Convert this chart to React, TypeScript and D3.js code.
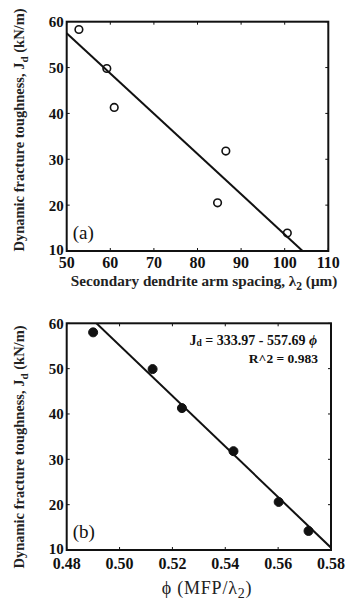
import React from "react";
import * as d3 from "d3";

// ---- Data ----
const lambda2 = [52.8, 59.2, 60.9, 84.6, 86.5, 100.6];
const jdA = [58.3, 49.8, 41.3, 20.5, 31.8, 13.9];
const phi = [0.49, 0.5125, 0.5236, 0.5431, 0.5602, 0.5715];
const jdB = [58.0, 49.9, 41.3, 31.8, 20.6, 14.2];
const fitA = [101.4, -0.878]; // intercept, slope
const fitB = [333.97, -557.69];
const xTicksA = [50, 60, 70, 80, 90, 100, 110];
const xTicksB = [0.48, 0.5, 0.52, 0.54, 0.56, 0.58];
const yTicks = [10, 20, 30, 40, 50, 60];

const FONT = "'Liberation Serif', 'DejaVu Serif', serif";

type PanelProps = {
  x0: number; x1: number; y0: number; y1: number;
  xDomain: [number, number]; xTicks: number[]; xFmt: (v: number) => string;
  xs: number[]; ys: number[]; filled: boolean; fit: number[];
  label: string; id: string; xLabOff: number;
};

function Panel(p: PanelProps) {
  const x = d3.scaleLinear().domain(p.xDomain).range([p.x0, p.x1]);
  const y = d3.scaleLinear().domain([10, 60]).range([p.y1, p.y0]);
  const [a, b] = p.fit;
  const xStart = Math.max(p.xDomain[0], (60 - a) / b);
  const xEnd = Math.min(p.xDomain[1], (10 - a) / b);
  const line = d3.line<number>().x((v) => x(v)).y((v) => y(a + b * v));
  const tl = 3;
  return (
    <g>
      <defs>
        <clipPath id={p.id}>
          <rect x={p.x0} y={p.y0} width={p.x1 - p.x0} height={p.y1 - p.y0} />
        </clipPath>
      </defs>
      {p.xTicks.map((t, i) => (
        <g key={"xt" + i}>
          <line x1={x(t)} x2={x(t)} y1={p.y1} y2={p.y1 - tl} stroke="#111" strokeWidth={1} />
          <line x1={x(t)} x2={x(t)} y1={p.y0} y2={p.y0 + tl} stroke="#111" strokeWidth={1} />
          <text x={x(t)} y={p.y1 + p.xLabOff} textAnchor="middle" fontSize={16} fontWeight="bold" fontFamily={FONT} fill="#111">
            {p.xFmt(t)}
          </text>
        </g>
      ))}
      {yTicks.map((t, i) => (
        <g key={"yt" + i}>
          <line x1={p.x0} x2={p.x0 + tl} y1={y(t)} y2={y(t)} stroke="#111" strokeWidth={1} />
          <line x1={p.x1} x2={p.x1 - tl} y1={y(t)} y2={y(t)} stroke="#111" strokeWidth={1} />
          <text x={p.x0 - 3} y={y(t) + (t === 10 ? 3.5 : 5.5)} textAnchor="end" fontSize={15} fontWeight="bold" fontFamily={FONT} fill="#111">
            {t}
          </text>
        </g>
      ))}
      <rect x={p.x0} y={p.y0} width={p.x1 - p.x0} height={p.y1 - p.y0} fill="none" stroke="#111" strokeWidth={2} />
      <path d={line([xStart, xEnd]) || ""} stroke="#111" strokeWidth={2} fill="none" clipPath={`url(#${p.id})`} />
      {p.xs.map((v, i) => (
        <circle key={"c" + i} cx={x(v)} cy={y(p.ys[i])} r={p.filled ? 4.5 : 3.8}
          fill={p.filled ? "#111" : "none"} stroke="#111" strokeWidth={p.filled ? 1 : 1.6} />
      ))}
      <text x={p.x0 + 6} y={y(10) - 12} fontSize={19} fontFamily={FONT} fill="#111">{p.label}</text>
    </g>
  );
}

export default function App() {
  return (
    <svg width={353} height={610} style={{ position: "absolute", left: 0, top: 0, background: "#fff" }}>
      <rect width={353} height={610} fill="#fff" />
      <Panel id="ca" x0={66.7} x1={328.3} y0={21.7} y1={251} xDomain={[50, 110]} xTicks={xTicksA}
        xFmt={(v) => String(v)} xs={lambda2} ys={jdA} filled={false} fit={fitA} label="(a)" xLabOff={17} />
      <Panel id="cb" x0={66.7} x1={331} y0={323.3} y1={550} xDomain={[0.48, 0.58]} xTicks={xTicksB}
        xFmt={(v) => v.toFixed(2)} xs={phi} ys={jdB} filled={true} fit={fitB} label="(b)" xLabOff={19} />

      <text transform="translate(24,130) rotate(-90)" textAnchor="middle" fontSize={14.5} fontWeight="bold" fontFamily={FONT} fill="#222">
        Dynamic fracture toughness, J<tspan fontSize={11} dy={4}>d</tspan><tspan dy={-4}> (kN/m)</tspan>
      </text>
      <text transform="translate(24,447) rotate(-90)" textAnchor="middle" fontSize={14.5} fontWeight="bold" fontFamily={FONT} fill="#222">
        Dynamic fracture toughness, J<tspan fontSize={11} dy={4}>d</tspan><tspan dy={-4}> (kN/m)</tspan>
      </text>

      <text x={204} y={286} textAnchor="middle" fontSize={15.2} fontWeight="bold" fontFamily={FONT} fill="#222">
        Secondary dendrite arm spacing, λ<tspan fontSize={11.5} dy={4}>2</tspan><tspan dy={-4}> (μm)</tspan>
      </text>
      <text x={207} y={594} textAnchor="middle" fontSize={18} fontFamily={FONT} fill="#222" letterSpacing={0.8}>
        ϕ (MFP/λ<tspan fontSize={14} dy={4}>2</tspan><tspan dy={-4}>)</tspan>
      </text>

      <text x={317} y={345} textAnchor="end" fontSize={14} fontWeight="bold" fontFamily={FONT} fill="#111">
        J<tspan fontSize={9.5} dy={1}>d</tspan><tspan dy={-1}> = 333.97 - 557.69 </tspan><tspan fontStyle="italic">ϕ</tspan>
      </text>
      <text x={318} y={363} textAnchor="end" fontSize={13.5} fontWeight="bold" fontFamily={FONT} fill="#111">
        R^2 = 0.983
      </text>
    </svg>
  );
}
